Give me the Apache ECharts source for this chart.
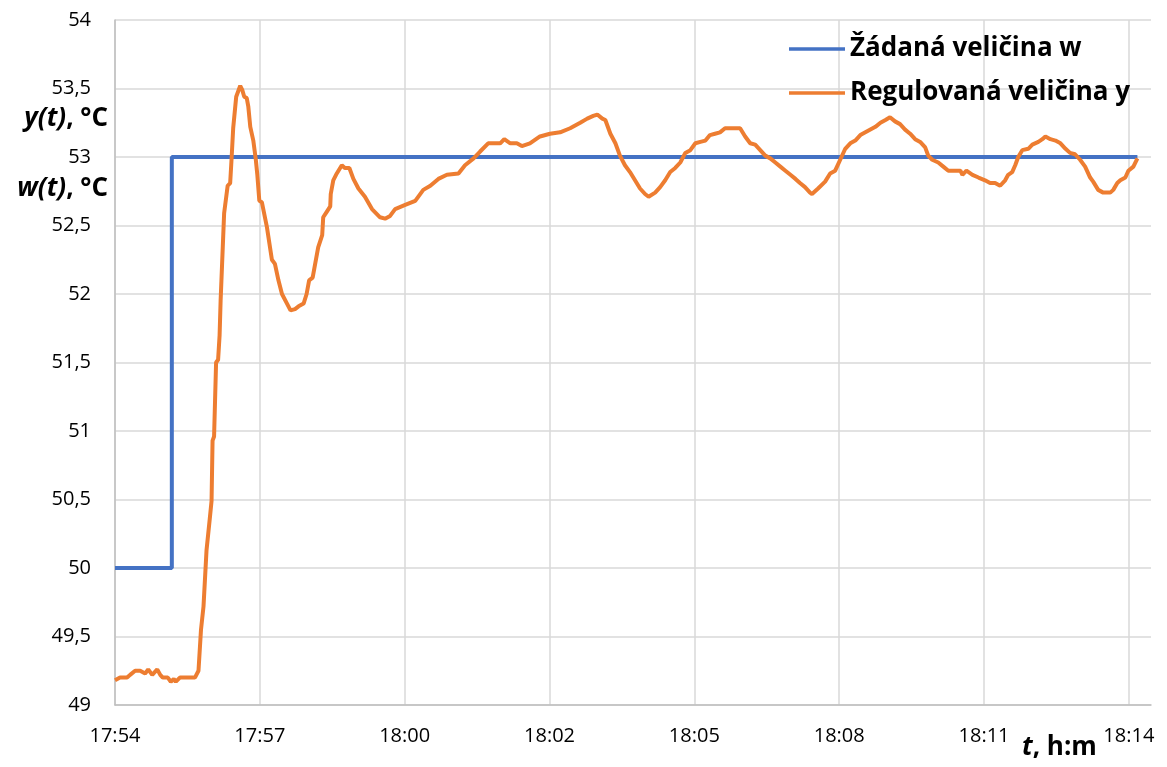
<!DOCTYPE html>
<html><head><meta charset="utf-8">
<script src="https://cdn.jsdelivr.net/npm/echarts@6/dist/echarts.min.js"></script>
<style>html,body{margin:0;padding:0;background:#fff}#c{width:1167px;height:767px}</style>
</head><body><div id="c"></div>
<script>
// x values: minutes since 17:54
const tickLabels = ['17:54','17:57','18:00','18:02','18:05','18:08','18:11','18:14'];
const tickStep = 2.88;
const xMax = 20.6;

const setpointTime  = [0, 1.13, 1.13, 20.33];
const setpointValue = [50, 50, 53, 53];

const outputTime = [
 0.00,0.10,0.24,0.30,0.40,0.50,0.60,0.66,0.74,0.84,0.90,0.95,1.05,1.11,1.17,1.21,1.29,1.53,1.59,1.66,
 1.71,1.76,1.82,1.89,1.92,1.94,1.97,2.01,2.05,2.08,2.10,2.17,2.24,2.29,2.32,2.35,2.41,2.49,2.53,2.57,
 2.62,2.65,2.69,2.75,2.80,2.83,2.87,2.92,3.02,3.12,3.18,3.25,3.32,3.42,3.49,3.58,3.65,3.75,3.81,3.86,
 3.93,3.98,4.04,4.12,4.14,4.21,4.28,4.29,4.34,4.41,4.51,4.57,4.66,4.74,4.84,4.97,5.11,5.27,5.37,5.47,
 5.57,5.77,5.97,6.13,6.27,6.43,6.60,6.83,6.96,7.13,7.26,7.42,7.66,7.74,7.86,7.99,8.09,8.25,8.45,8.65,
 8.85,9.05,9.25,9.39,9.51,9.59,9.69,9.75,9.85,9.95,10.04,10.14,10.24,10.34,10.44,10.54,10.61,10.74,10.84,10.94,
 11.04,11.14,11.24,11.34,11.44,11.54,11.64,11.74,11.83,11.93,12.03,12.13,12.43,12.53,12.63,12.73,12.83,12.93,13.03,13.13,
 13.23,13.33,13.43,13.53,13.62,13.72,13.82,13.86,13.98,14.12,14.22,14.32,14.42,14.52,14.62,14.72,14.82,14.92,15.02,15.12,
 15.22,15.32,15.41,15.51,15.61,15.71,15.81,15.91,16.01,16.11,16.17,16.25,16.37,16.47,16.57,16.81,16.85,16.93,17.05,17.17,
 17.30,17.40,17.50,17.60,17.70,17.76,17.84,17.90,17.96,18.04,18.16,18.24,18.36,18.44,18.50,18.60,18.70,18.80,18.90,18.99,
 19.09,19.19,19.29,19.39,19.45,19.55,19.65,19.79,19.85,19.93,19.99,20.09,20.15,20.25,20.33
];
const outputValue = [
 49.18,49.20,49.20,49.22,49.25,49.25,49.23,49.26,49.22,49.26,49.22,49.20,49.20,49.17,49.19,49.17,49.20,49.20,49.20,49.25,
 49.55,49.72,50.13,50.38,50.49,50.93,50.96,51.50,51.52,51.70,51.95,52.59,52.79,52.81,53.00,53.21,53.44,53.52,53.49,53.44,
 53.43,53.37,53.22,53.12,52.98,52.87,52.68,52.67,52.49,52.25,52.22,52.10,52.00,51.93,51.88,51.89,51.91,51.93,52.00,52.10,
 52.12,52.22,52.34,52.43,52.56,52.60,52.64,52.73,52.83,52.88,52.94,52.92,52.92,52.84,52.77,52.71,52.62,52.56,52.55,52.57,
 52.62,52.65,52.68,52.76,52.79,52.84,52.87,52.88,52.94,52.99,53.04,53.10,53.10,53.13,53.10,53.10,53.08,53.10,53.15,53.17,
 53.18,53.21,53.25,53.28,53.30,53.31,53.28,53.27,53.17,53.10,53.01,52.94,52.89,52.83,52.77,52.73,52.71,52.74,52.78,52.83,
 52.89,52.92,52.96,53.03,53.05,53.10,53.11,53.12,53.16,53.17,53.18,53.21,53.21,53.15,53.10,53.09,53.05,53.01,52.99,52.96,
 52.93,52.90,52.87,52.84,52.81,52.78,52.74,52.73,52.77,52.82,52.88,52.90,52.98,53.06,53.10,53.12,53.16,53.18,53.20,53.22,
 53.25,53.27,53.29,53.26,53.24,53.20,53.17,53.13,53.11,53.07,53.01,52.98,52.96,52.93,52.90,52.90,52.87,52.90,52.87,52.85,
 52.83,52.81,52.81,52.79,52.83,52.87,52.89,52.94,53.00,53.05,53.06,53.09,53.11,53.13,53.15,53.13,53.12,53.10,53.06,53.03,
 53.02,52.98,52.93,52.85,52.82,52.76,52.74,52.74,52.76,52.81,52.83,52.85,52.90,52.93,52.99
];

const zip = (a, b) => a.map((v, i) => [v, b[i]]);
const FONT = '"Open Sans"';
const richTitle = {
  i: {fontFamily: FONT, fontSize: 26, fontWeight: 'bold', fontStyle: 'italic', lineHeight: 32},
  b: {fontFamily: FONT, fontSize: 26, fontWeight: 'bold', lineHeight: 32}
};

const chart = echarts.init(document.getElementById('c'), null, {renderer: 'canvas'});
chart.setOption({
  animation: false,
  backgroundColor: '#fff',
  grid: {left: 115, right: 16, top: 20, bottom: 62, containLabel: false},
  xAxis: {
    type: 'value', min: 0, max: xMax, interval: tickStep,
    axisLine: {show: true, lineStyle: {color: '#bfbfbf', width: 1.5}},
    axisTick: {show: false},
    splitLine: {show: true, showMaxLine: false, lineStyle: {color: '#d9d9d9', width: 1.5}},
    axisLabel: {
      margin: 21, color: '#000', fontFamily: FONT, fontSize: 20, showMaxLabel: false,
      formatter: v => {
        const i = Math.round(v / tickStep);
        return Math.abs(v - i * tickStep) < 0.01 && tickLabels[i] ? tickLabels[i] : '';
      }
    }
  },
  yAxis: {
    type: 'value', min: 49, max: 54, interval: 0.5,
    axisLine: {show: true, lineStyle: {color: '#bfbfbf', width: 1.5}},
    axisTick: {show: false},
    splitLine: {show: true, lineStyle: {color: '#d9d9d9', width: 1.5}},
    axisLabel: {
      margin: 24, color: '#000', fontFamily: FONT, fontSize: 20,
      formatter: v => String(v).replace('.', ',')
    }
  },
  legend: {
    orient: 'vertical', left: 784, top: 28, itemGap: 12,
    icon: 'rect', itemWidth: 56, itemHeight: 3.5,
    textStyle: {fontFamily: FONT, fontSize: 26, fontWeight: 'bold', color: '#000', lineHeight: 32},
    data: ['Žádaná veličina w', 'Regulovaná veličina y']
  },
  series: [
    {name: 'Žádaná veličina w', type: 'line', data: zip(setpointTime, setpointValue),
     symbol: 'none', lineStyle: {color: '#4472C4', width: 4}, itemStyle: {color: '#4472C4'}},
    {name: 'Regulovaná veličina y', type: 'line', data: zip(outputTime, outputValue),
     symbol: 'none', lineStyle: {color: '#ED7D31', width: 4}, itemStyle: {color: '#ED7D31'}}
  ],
  graphic: [
    {type: 'text', right: 1167 - 108, top: 106, style: {text: '{i|y(t)}{b|, °C}', fill: '#000', rich: richTitle}},
    {type: 'text', right: 1167 - 108, top: 176, style: {text: '{i|w(t)}{b|, °C}', fill: '#000', rich: richTitle}},
    {type: 'text', left: 1022, top: 735, style: {text: '{i|t}{b|, h:m}', fill: '#000', rich: richTitle}}
  ]
});
</script>
</body></html>
